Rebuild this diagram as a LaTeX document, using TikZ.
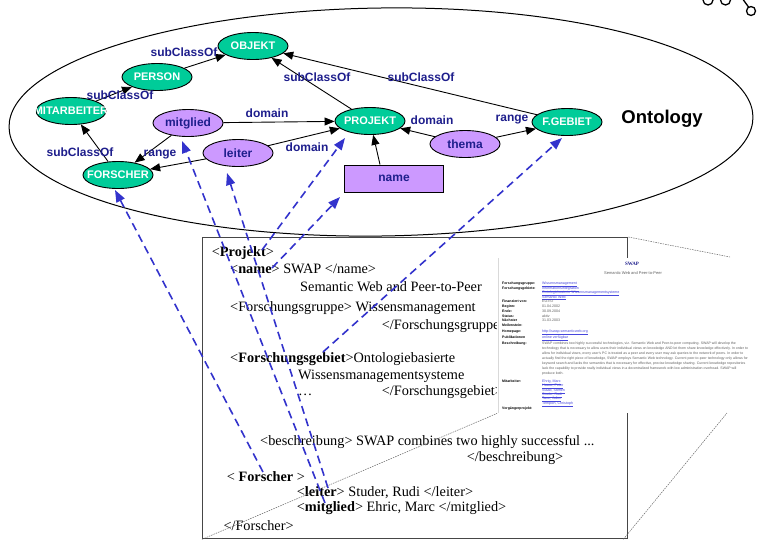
\documentclass[tikz,border=0pt]{standalone}
\usepackage{fontspec}
\setmainfont{Liberation Serif}
\newfontfamily\arialfont{Liberation Sans}
\usetikzlibrary{shapes.geometric,arrows.meta,calc}

\definecolor{conceptgreen}{RGB}{0,204,153}
\definecolor{relpurple}{RGB}{204,153,255}
\definecolor{labelnavy}{RGB}{30,30,140}
\definecolor{mapblue}{RGB}{51,51,204}
\definecolor{linkblue}{RGB}{70,70,220}
\definecolor{boxgray}{RGB}{70,70,70}

\newcommand{\flatlabel}[1]{\makebox[0pt]{#1}}
\newcommand{\weblink}[1]{\underline{#1}}

\begin{document}
\begin{tikzpicture}[x=1pt,y=-1pt,
  concept/.style={ellipse,draw=black,line width=0.9pt,fill=conceptgreen,
    minimum width=70pt,minimum height=27pt,inner sep=0pt,text=white,
    font=\arialfont\bfseries\fontsize{11}{11}\selectfont},
  relation/.style={ellipse,draw=black,line width=0.9pt,fill=relpurple,
    minimum width=70pt,minimum height=27pt,inner sep=0pt,text=labelnavy,
    font=\arialfont\bfseries\fontsize{12}{12}\selectfont},
  attrbox/.style={rectangle,draw=black,line width=0.9pt,fill=relpurple,
    minimum width=99pt,minimum height=27pt,inner sep=0pt,text=labelnavy,
    font=\arialfont\bfseries\fontsize{12}{12}\selectfont},
  edgelabel/.style={text=labelnavy,inner sep=0pt,
    font=\arialfont\bfseries\fontsize{12}{12}\selectfont},
  isa/.style={-{Triangle[length=10pt,width=8pt]},line width=0.9pt,black},
  mapping/.style={-{Triangle[length=12pt,width=9pt]},line width=1.6pt,
    mapblue,dash pattern=on 8pt off 5pt},
  callout/.style={gray!80!black,line width=0.5pt,dash pattern=on 1.5pt off 1pt},
  xml/.style={anchor=base west,inner sep=0pt,
    font=\fontsize{14.3}{14.3}\selectfont},
  weblabel/.style={anchor=base west,inner sep=0pt,
    font=\arialfont\bfseries\fontsize{3.5}{3.5}\selectfont},
  webvalue/.style={anchor=base west,inner sep=0pt,text=gray!75!black,
    font=\arialfont\fontsize{3.6}{3.6}\selectfont},
  webref/.style={anchor=base west,inner sep=0pt,text=linkblue,
    font=\arialfont\fontsize{3.6}{3.6}\selectfont}
]
\useasboundingbox (0,0) rectangle (766,539);

% corner ornament
\begin{scope}[line width=1.3pt]
  \draw (708,0) circle[radius=5pt];
  \draw (725.5,0) circle[radius=5pt];
  \draw (742,-2) -- (748.5,7);
  \draw (751,11) circle[radius=4.5pt];
\end{scope}

% ontology frame
\draw[line width=1pt,rotate around={0.8:(381,122)}] (381,122)
  ellipse[x radius=372pt,y radius=114pt];

% concepts
\node[concept] (objekt) at (253,46) {\flatlabel{OBJEKT}};
\node[concept] (person) at (157,77) {\flatlabel{PERSON}};
\node[concept] (mitarbeiter) at (71,111) {\flatlabel{MITARBEITER}};
\node[concept] (forscher) at (118,175) {\flatlabel{FORSCHER}};
\node[concept] (projekt) at (370,121) {\flatlabel{PROJEKT}};
\node[concept] (fgebiet) at (567,122) {\flatlabel{F.GEBIET}};

% relations and attribute
\node[relation] (mitglied) at (188,123) {mitglied};
\node[relation] (leiter) at (238,153) {leiter};
\node[relation] (thema) at (465,144) {thema};
\node[attrbox] (name) at (394,178.5) {name};

% hierarchy and property edges
\draw[isa] (person) -- (objekt);
\draw[isa] (mitarbeiter) -- (person);
\draw[isa] (forscher) -- (mitarbeiter);
\draw[isa] (projekt) -- (objekt);
\draw[isa] (fgebiet) -- (objekt);
\draw[isa] (mitglied) -- (projekt);
\draw[isa] (mitglied) -- (forscher);
\draw[isa] (leiter) -- (projekt);
\draw[isa] (leiter) -- (forscher);
\draw[isa] (thema) -- (projekt);
\draw[isa] (thema) -- (fgebiet);
\draw[isa] ([xshift=-14pt]name.north) -- (projekt);

% edge labels
\node[edgelabel] (l-person) at (184,52) {subClassOf};
\node[edgelabel] (l-mitarb) at (120,95) {subClassOf};
\node[edgelabel] (l-forscher) at (80,152) {subClassOf};
\node[edgelabel] (l-range1) at (160,155) {range};
\node[edgelabel] (l-dom1) at (267,113) {domain};
\node[edgelabel] (l-dom2) at (307,147) {domain};
\node[edgelabel] (l-projekt) at (317,77) {subClassOf};
\node[edgelabel] (l-fgebiet) at (421,77) {subClassOf};
\node[edgelabel] (l-dom3) at (432,120) {domain};
\node[edgelabel] (l-range2) at (512,120) {range};
\node[inner sep=0pt,font=\arialfont\bfseries\fontsize{18.5}{18.5}\selectfont]
  (ontology) at (662,119) {Ontology};

% XML instance document
\node[draw=boxgray,line width=1.3pt,fill=white,minimum width=425pt,
  minimum height=301pt,inner sep=0pt,anchor=north west] (xmlbox) at (202,237) {};
\node[xml] (x1) at (211.7,256.7) {<\textbf{Projekt}>};
\node[xml] (x2) at (230,273.3) {<\textbf{name}> SWAP </name>};
\node[xml] (x3) at (300,291.7) {Semantic Web and Peer-to-Peer};
\node[xml] (x4) at (230,311) {<Forschungsgruppe> Wissensmanagement};
\node[xml] (x5) at (381.7,329) {</Forschungsgruppe>};
\node[xml] (x6) at (230,362.7) {<\textbf{Forschungsgebiet}>Ontologiebasierte};
\node[xml] (x7) at (298,379) {Wissensmanagementsysteme};
\node[xml] (x8) at (298,395) {…};
\node[xml] (x9) at (381.7,395) {</Forschungsgebiet>};
\node[xml] (x10) at (260,445) {<beschreibung> SWAP combines two highly successful ...};
\node[xml] (x11) at (466.7,461.7) {</beschreibung>};
\node[xml] (x12) at (226.7,481) {< \textbf{Forscher} >};
\node[xml] (x13) at (296.7,496.7) {<\textbf{leiter}> Studer, Rudi </leiter>};
\node[xml] (x14) at (296.7,511.7) {<\textbf{mitglied}> Ehric, Marc </mitglied>};
\node[xml] (x15) at (223.3,530) {</Forscher>};

% rendered project page
\node[fill=white,minimum width=269pt,minimum height=155pt,inner sep=0pt,
  anchor=north west] (webshot) at (497,258) {};
\draw[gray!30,line width=0.8pt] ([xshift=1pt]webshot.north west) -- ([xshift=1pt]webshot.south west);
\node[inner sep=0pt,text=labelnavy,font=\bfseries\fontsize{5}{5}\selectfont] (w-title) at (632,263.5) {SWAP};
\node[inner sep=0pt,text=gray!75!black,font=\arialfont\fontsize{4}{4}\selectfont] (w-sub) at (633,273) {Semantic Web and Peer-to-Peer};
\node[weblabel] (w1) at (502,284) {Forschungsgruppe:};
\node[weblabel] (w2) at (502,289) {Forschungsgebiete:};
\node[weblabel] (w3) at (502,302.5) {Finanziert von:};
\node[weblabel] (w4) at (502,307.5) {Beginn:};
\node[weblabel] (w5) at (502,312.5) {Ende:};
\node[weblabel] (w6) at (502,317.3) {Status:};
\node[weblabel] (w7) at (502,321.4) {Nächster};
\node[weblabel] (w8) at (502,326.2) {Meilenstein:};
\node[weblabel] (w9) at (502,332.5) {Homepage:};
\node[weblabel] (w10) at (502,338.5) {Publikationen};
\node[weblabel] (w11) at (502,344.5) {Beschreibung:};
\node[weblabel] (w12) at (502,382.5) {Mitarbeiter:};
\node[weblabel] (w13) at (502,409.5) {Vorgängerprojekt:};
\node[webref] (v1) at (542,284) {\weblink{Wissensmanagement}};
\node[webref] (v2) at (542,289) {\weblink{Informationsintegration}};
\node[webref] (v3) at (542,293.5) {\weblink{Ontologiebasierte Wissensmanagementsysteme}};
\node[webref] (v4) at (542,298) {\weblink{Semantic Web}};
\node[webvalue] (v5) at (542,302.5) {EU-IST};
\node[webvalue] (v6) at (542,307.5) {01.04.2002};
\node[webvalue] (v7) at (542,312.5) {30.09.2004};
\node[webvalue] (v8) at (542,317.3) {aktiv};
\node[webvalue] (v9) at (542,321.4) {31.03.2003};
\node[webref] (v10) at (542,332.5) {\weblink{http://swap.semanticweb.org}};
\node[webref] (v11) at (542,338.5) {\weblink{online verfügbar}};
\node[anchor=north west,inner sep=0pt,align=left,
  text=gray!75!black,font=\arialfont\fontsize{3.5}{5}\selectfont] (v12) at (542,342.2)
  {SWAP combines two highly successful technologies, viz. Semantic Web and Peer-to-peer computing. SWAP will develop the\\
   technology that is necessary to allow users their individual views on knowledge AND let them share knowledge effectively. In order to\\
   allow for individual views, every user's PC is treated as a peer and every user may ask queries to the network of peers. In order to\\
   actually find the right piece of knowledge, SWAP employs Semantic Web technology. Current peer-to-peer technology only allows for\\
   keyword search and lacks the semantics that is necessary for effective, precise knowledge sharing. Current knowledge repositories\\
   lack the capability to provide really individual views in a decentralized framework with low administration overhead. SWAP will\\
   produce both.};
\node[webref] (v13) at (542,382.5) {\weblink{Ehrig, Marc}};
\node[webref] (v14) at (542,386.8) {\weblink{Haase, Peter}};
\node[webref] (v15) at (542,391.1) {\weblink{Staab, Steffen}};
\node[webref] (v16) at (542,395.4) {\weblink{Studer, Rudi}};
\node[webref] (v17) at (542,399.7) {\weblink{Tane, Julien}};
\node[webref] (v18) at (542,404) {\weblink{Tempich, Christoph}};

% perspective lines from the document to the page
\coordinate (zoom-ne) at (730,257);
\coordinate (zoom-se) at (727,413);
\draw[callout] (xmlbox.north east) -- (zoom-ne);
\draw[callout] (xmlbox.south west) -- (webshot.south west);
\draw[callout] ([xshift=-5pt]xmlbox.south east) -- (zoom-se);

% mappings from XML elements to ontology entities
\coordinate (m-projekt) at (262,250);
\coordinate (m-name) at (272,268);
\coordinate (m-gebiet) at (323,352);
\coordinate (m-forscher) at (263,472);
\coordinate (m-leiter) at (328,488);
\coordinate (m-mitglied) at (325,503);
\coordinate (t-projekt) at (345,138);
\coordinate (t-name) at (340,197);
\coordinate (t-gebiet) at (562,138);
\coordinate (t-forscher) at (115,190);
\coordinate (t-leiter) at (227,173);
\coordinate (t-mitglied) at (182,141);
\draw[mapping] (m-projekt) -- (t-projekt);
\draw[mapping] (m-name) -- (t-name);
\draw[mapping] (m-gebiet) -- (t-gebiet);
\draw[mapping] (m-forscher) -- (t-forscher);
\draw[mapping] (m-leiter) -- (t-leiter);
\draw[mapping] (m-mitglied) -- (t-mitglied);
\end{tikzpicture}
\end{document}
